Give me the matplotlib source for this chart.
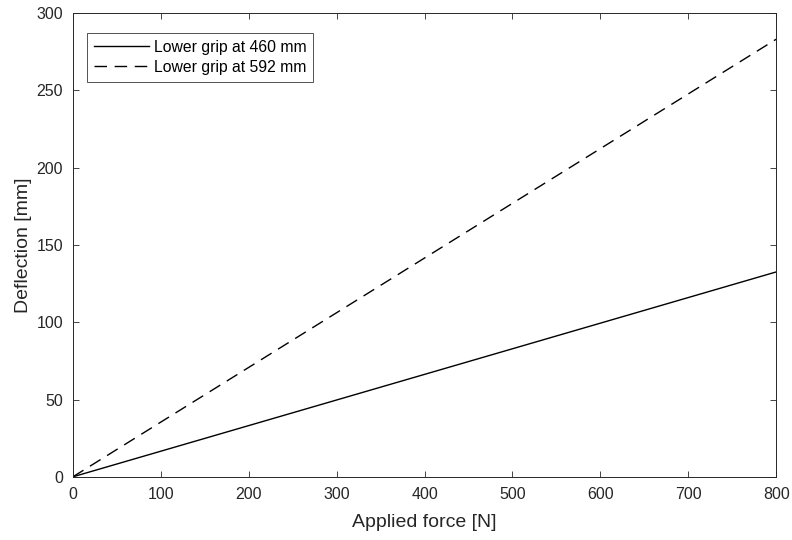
import matplotlib.pyplot as plt
import numpy as np

# data
force = [0, 800]
defl_460 = [0, 132.5]
defl_592 = [0, 283]
labels = ['Lower grip at 460 mm', 'Lower grip at 592 mm']

plt.rcParams['font.family'] = ['Liberation Sans', 'DejaVu Sans']
gray = '#262626'

fig = plt.figure(figsize=(7.92, 5.4), dpi=100)
ax = fig.add_axes([0.092, 0.117, 0.888, 0.859])

ax.plot(force, defl_460, color='black', lw=1.0, label=labels[0])
ax.plot(force, defl_592, color='black', lw=1.0, ls=(0, (9, 5.5)), label=labels[1])

ax.set_xlim(0, 800)
ax.set_ylim(0, 300)
ax.set_xticks(np.arange(0, 801, 100))
ax.set_yticks(np.arange(0, 301, 50))
ax.tick_params(direction='in', top=True, right=True, length=4, width=0.6,
               colors=gray, labelsize=11.5, pad=7)
for s in ax.spines.values():
    s.set_color(gray)
    s.set_linewidth(0.7)

ax.set_xlabel('Applied force [N]', fontsize=14, color=gray, labelpad=9)
ax.set_ylabel('Deflection [mm]', fontsize=14, color=gray, labelpad=3)

leg = ax.legend(loc='upper left', bbox_to_anchor=(0.02, 0.957), borderaxespad=0,
                fontsize=11.3, frameon=True, fancybox=False, handlelength=3.5,
                borderpad=0.45, labelspacing=0.3, handletextpad=0.3)
leg.get_frame().set_edgecolor(gray)
leg.get_frame().set_linewidth(0.7)

plt.savefig('out.png', dpi=100)
